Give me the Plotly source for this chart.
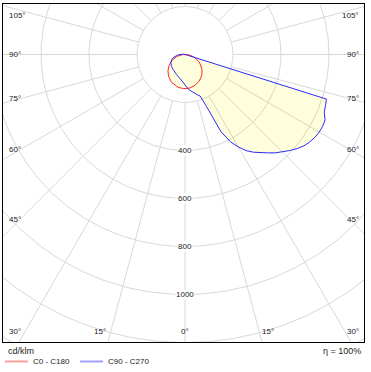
import numpy as np
import plotly.graph_objects as go

# ---------------- data (cd/klm) ----------------
gamma = [0, 2.5, 5, 7.5, 10, 12.5, 15, 17.5, 20, 22.5, 25, 27.5, 30, 32.5, 35, 37.5, 40, 42.5,
         45, 47.5, 50, 52.5, 55, 57.5, 60, 62.5, 65, 67.5, 70, 72.5, 75, 77.5, 80, 82.5, 85,
         87.5, 90, 95, 100, 105, 110, 120, 135, 150, 165, 180]
c0 = [142, 142, 141, 141, 140, 139, 137, 135, 133, 131, 129, 126, 123, 120, 116, 113, 109, 105,
      100, 96, 91, 86, 81, 76, 71, 66, 60, 54, 49, 43, 37, 31, 25, 19, 12,
      6, 3, 1, 0, 0, 0, 0, 0, 0, 0, 0]
c180 = [142, 142, 141, 141, 140, 139, 137, 135, 133, 131, 129, 126, 123, 120, 116, 113, 109, 105,
        100, 96, 91, 86, 81, 76, 71, 66, 60, 54, 49, 43, 37, 31, 25, 19, 12,
        6, 3, 1, 0, 0, 0, 0, 0, 0, 0, 0]
c90 = [127, 136, 143, 150, 156, 163, 170, 177, 184, 235, 355, 410, 445, 475, 497, 516, 535, 556,
       574, 592, 610, 625, 635, 642, 646, 647, 644, 628, 623, 618, 6, 5, 5, 4, 4,
       3, 3, 3, 3, 3, 2, 2, 1, 1, 0, 0]
c270 = [127, 119, 113, 108, 104, 101, 98, 95, 93, 91, 89, 87, 85, 83, 82, 80, 79, 78,
        77, 75, 74, 72, 71, 70, 68, 66, 64, 61, 58, 55, 51, 47, 42, 37, 32,
        27, 21, 13, 7, 4, 2, 1, 1, 0, 0, 0]

grid_radii = [200, 400, 600, 800, 1000, 1200, 1400, 1600]
radial_labels = [400, 600, 800, 1000]
spoke_step = 15
side_angle_labels = [105, 90, 75, 60, 45, 30]
bottom_angle_labels = [15, 0]
legend_names = ["C0 - C180", "C90 - C270"]
unit_text = "cd/klm"
eta_text = "η = 100%"

# ---------------- geometry ----------------
W, H = 371, 372
ML, MR, MT, MB = 3, 7, 4, 30
CX, CY = 185, 54.5          # pole position in pixels
K = 48 / 200                # pixels per cd/klm
x0 = (ML - CX) / K
x1 = (W - MR - CX) / K
y1 = (CY - MT) / K
y0 = -(H - MB - CY) / K


def side(gam, vals, sign):
    g = np.radians(np.asarray(gam, float))
    v = np.asarray(vals, float)
    return sign * v * np.sin(g), -v * np.cos(g)


def closed_curve(right, left):
    xr, yr = side(gamma, right, 1)
    xl, yl = side(gamma, left, -1)
    xs = np.concatenate([xr, xl[::-1]])
    ys = np.concatenate([yr, yl[::-1]])
    return xs, ys


rx, ry = closed_curve(c0, c180)
bx, by = closed_curve(c90, c270)

FILL = "#fefddc"
fig = go.Figure()
fig.add_trace(go.Scatter(x=bx, y=by, fill="toself", fillcolor=FILL, mode="none", hoverinfo="skip"))
fig.add_trace(go.Scatter(x=rx, y=ry, fill="toself", fillcolor=FILL, mode="none", hoverinfo="skip"))

# grid
gx, gy = [], []
t = np.linspace(0, 2 * np.pi, 361)
for r in grid_radii:
    gx += list(r * np.cos(t)) + [None]
    gy += list(r * np.sin(t)) + [None]
for a in range(0, 360, spoke_step):
    ar = np.radians(a)
    gx += [grid_radii[0] * np.sin(ar), 3000 * np.sin(ar), None]
    gy += [-grid_radii[0] * np.cos(ar), -3000 * np.cos(ar), None]
fig.add_trace(go.Scatter(x=gx, y=gy, mode="lines", line=dict(color="black", width=1),
                         opacity=0.15, hoverinfo="skip"))

fig.add_trace(go.Scatter(x=rx, y=ry, mode="lines", line=dict(color="#ff2020", width=1), hoverinfo="skip"))
fig.add_trace(go.Scatter(x=bx, y=by, mode="lines", line=dict(color="#2a2aff", width=1), hoverinfo="skip"))

FONT = "Liberation Sans, Arial, sans-serif"
ann = []
for r in radial_labels:
    ann.append(dict(x=0, y=-r, text=str(r), showarrow=False, xanchor="center", yanchor="middle",
                    font=dict(family=FONT, size=8, color="#222"), bgcolor="white", borderpad=0))

X_in = 164.5 / K
ytop = (CY - 15) / K
ybot = -(331 - CY) / K
for a in side_angle_labels:
    yv = -X_in / np.tan(np.radians(a)) if a != 90 else 0.0
    yv = min(max(yv, ybot), ytop)
    ann.append(dict(x=(7 - CX) / K, y=yv, text=f"{a}°", showarrow=False, xanchor="left",
                    yanchor="middle", font=dict(family=FONT, size=8, color="#222")))
    ann.append(dict(x=(361 - CX) / K, y=yv, text=f"{a}°", showarrow=False, xanchor="right",
                    yanchor="middle", font=dict(family=FONT, size=8, color="#222")))
for a in bottom_angle_labels:
    xv = -ybot * np.tan(np.radians(a))
    if a == 0:
        ann.append(dict(x=0, y=ybot, text=f"{a}°", showarrow=False, xanchor="center",
                        yanchor="middle", font=dict(family=FONT, size=8, color="#222")))
    else:
        ann.append(dict(x=-xv - 3 / K, y=ybot, text=f"{a}°", showarrow=False, xanchor="right",
                        yanchor="middle", font=dict(family=FONT, size=8, color="#222")))
        ann.append(dict(x=xv + 1 / K, y=ybot, text=f"{a}°", showarrow=False, xanchor="left",
                        yanchor="middle", font=dict(family=FONT, size=8, color="#222")))


def px(xp):
    return (xp - ML) / (W - ML - MR)


def py(yp):
    return (H - MB - yp) / (H - MT - MB)


ann.append(dict(xref="paper", yref="paper", x=px(6), y=py(351), text=unit_text, showarrow=False,
                xanchor="left", yanchor="middle", font=dict(family=FONT, size=9, color="#222")))
ann.append(dict(xref="paper", yref="paper", x=px(363), y=py(351), text=eta_text, showarrow=False,
                xanchor="right", yanchor="middle", font=dict(family=FONT, size=9, color="#222")))

shapes = []
leg_colors = ["rgb(255,160,160)", "rgb(160,160,255)"]
leg_x = [5, 80]
for name, col, lx in zip(legend_names, leg_colors, leg_x):
    shapes.append(dict(type="line", xref="paper", yref="paper", x0=px(lx), x1=px(lx + 23),
                       y0=py(361.5), y1=py(361.5), line=dict(color=col, width=2)))
    ann.append(dict(xref="paper", yref="paper", x=px(lx + 26), y=py(361.5), text=name, showarrow=False,
                    xanchor="left", yanchor="middle", font=dict(family=FONT, size=8, color="#222")))

ax = dict(showgrid=False, zeroline=False, showticklabels=False, ticks="", showline=True,
          linecolor="black", linewidth=1, mirror=True, fixedrange=True)
fig.update_layout(
    width=W, height=H, margin=dict(l=ML, r=MR, t=MT, b=MB, pad=0),
    paper_bgcolor="white", plot_bgcolor="white", showlegend=False,
    xaxis=dict(range=[x0, x1], **ax), yaxis=dict(range=[y0, y1], **ax),
    annotations=ann, shapes=shapes,
)
fig.write_html("out.html", config={"displayModeBar": False},
               post_script="document.body.style.margin='0';document.body.style.overflow='hidden';")
